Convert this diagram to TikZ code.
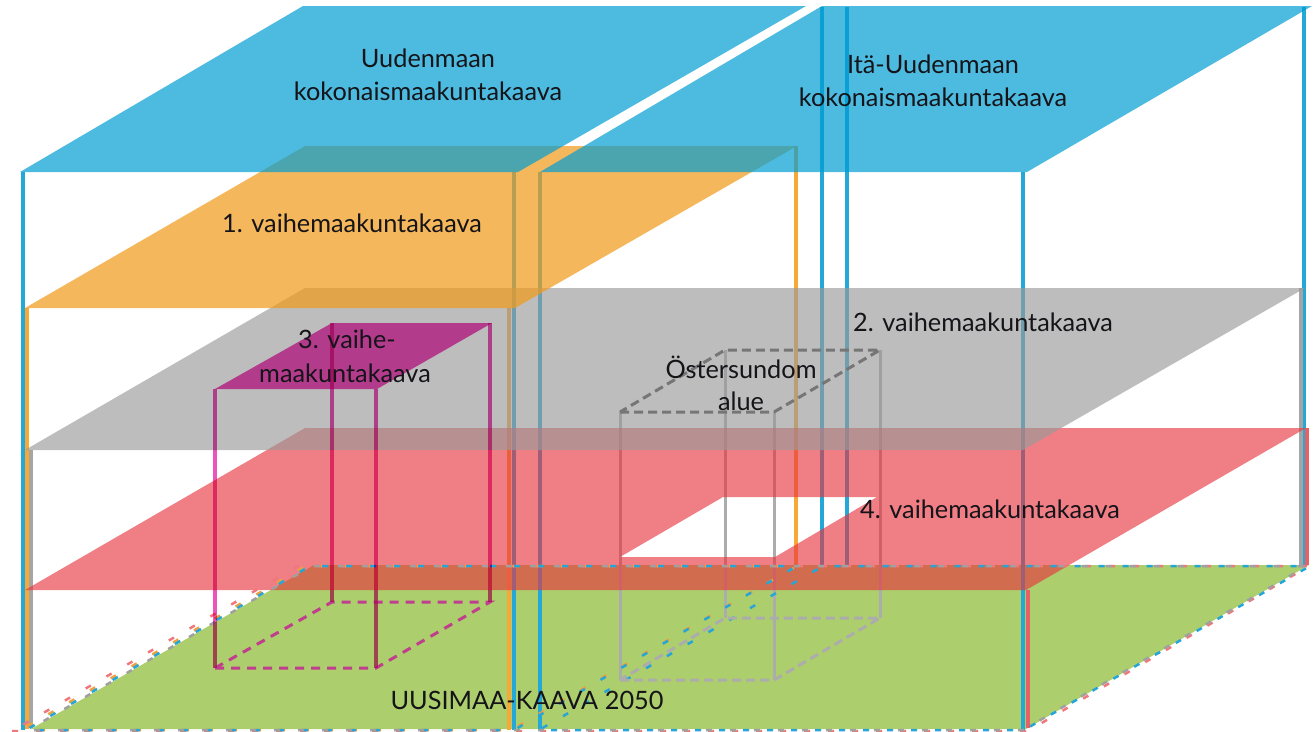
\documentclass[tikz,border=0pt]{standalone}
\usepackage{fontspec}
\setmainfont{Lato}
\definecolor{cgreen}{RGB}{172,206,108}
\definecolor{cred}{RGB}{232,53,64}
\definecolor{cgray}{RGB}{154,154,153}
\definecolor{corange}{RGB}{241,155,29}
\definecolor{cblue}{RGB}{2,158,211}
\definecolor{cmag}{RGB}{179,59,140}
\definecolor{lmag}{RGB}{235,85,185}
\definecolor{dmag}{RGB}{192,62,142}
\definecolor{lblue}{RGB}{35,168,215}
\definecolor{lorange}{RGB}{247,168,55}
\definecolor{lgray}{RGB}{165,165,165}
\definecolor{lred}{RGB}{232,95,100}
\definecolor{ogray}{RGB}{172,172,172}
\definecolor{odark}{RGB}{118,118,118}
\definecolor{dred}{RGB}{240,120,125}
\definecolor{dorange}{RGB}{240,160,60}
\definecolor{dblue}{RGB}{40,165,215}
\definecolor{dgray}{RGB}{160,160,160}
\definecolor{txt}{RGB}{20,20,25}
\begin{document}
\begin{tikzpicture}[x=1pt,y=-1pt,
  vline/.style={line width=4pt},
  thinline/.style={line width=3pt},
  flo/.style={line width=2.5pt, dash pattern=on 6pt off 18pt},
  odash/.style={line width=3pt, dash pattern=on 9pt off 5pt},
  mdash/.style={line width=3pt, dmag, dash pattern=on 9pt off 7pt},
  lbl/.style={anchor=base, inner sep=0pt, font=\fontsize{25.3}{30}\selectfont, text=txt},
]
\useasboundingbox (0,0) rectangle (1316,731);

% floor
\fill[cgreen] (31,729) -- (1026,729) -- (1309,565) -- (314,565) -- cycle;

% verticals (under the layers)
\draw[vline, lblue] (23,172) -- (23,730);
\draw[vline, lblue] (514,172) -- (514,730);
\draw[vline, lblue] (540,172) -- (540,730);
\draw[vline, lblue] (1023,172) -- (1023,730);
\draw[vline, lblue] (822,7) -- (822,565);
\draw[vline, lblue] (847,7) -- (847,565);
\draw[vline, lblue] (1304,7) -- (1304,565);
\draw[vline, lorange] (27,308) -- (27,729);
\draw[vline, lorange] (509,308) -- (509,730);
\draw[vline, lorange] (796,146) -- (796,565);
\draw[vline, lgray] (31,450) -- (31,728);
\draw[vline, lgray] (1301,288) -- (1301,565);
\draw[vline, lred] (1028,590) -- (1028,728);
\draw[vline, lred] (1307,428) -- (1307,565);
\draw[thinline, ogray] (620,412) -- (620,680);
\draw[thinline, ogray] (774,412) -- (774,680);
\draw[thinline, ogray] (725,350) -- (725,618);
\draw[thinline, ogray] (880,350) -- (880,618);

% layers
\fill[cred, fill opacity=0.64, even odd rule]
  (25,590) -- (1026,590) -- (1306,428) -- (305,428) -- cycle
  (620,557) -- (775,557) -- (877,497) -- (723,497) -- cycle;
\fill[cgray, fill opacity=0.65] (25,450) -- (1023,450) -- (1305,288) -- (305,288) -- cycle;
\fill[corange, fill opacity=0.72] (25,308) -- (515,308) -- (797,146) -- (305,146) -- cycle;
\fill[cblue, fill opacity=0.7] (20,172) -- (518,172) -- (806,6) -- (303,6) -- cycle;
\fill[cblue, fill opacity=0.7] (540,172) -- (1027,172) -- (1312,6) -- (822,6) -- cycle;

% floor outlines (projections)
\draw[flo, dred, dash phase=0pt] (12,731) -- (1028,731) -- (1309,566) -- (298,566) -- cycle;
\draw[flo, dorange, dash phase=6pt] (21,730) -- (511,730) -- (797,566) -- (306,566) -- cycle;
\draw[flo, dblue, dash phase=12pt] (26,730) -- (514,730) -- (797,566) -- (310,566) -- cycle;
\draw[flo, dblue, dash phase=12pt] (539,730) -- (1024,730) -- (1310,566) -- (823,566) -- cycle;
\draw[flo, dgray, dash phase=18pt] (28,730) -- (1023,730) -- (1307,566) -- (312,566) -- cycle;

% Ostersundom box dashes
\draw[odash, odark] (620,412) -- (774,412) -- (880,350) -- (725,350) -- cycle;
\draw[odash, ogray] (620,680) -- (774,680) -- (880,618) -- (725,618) -- cycle;

% 3. vaihemaakuntakaava box
\fill[cmag] (215,389) -- (377,389) -- (492,323) -- (332,323) -- cycle;
\draw[mdash] (215,668) -- (376,668) -- (490,602) -- (332,602) -- cycle;
\begin{scope}[blend mode=multiply]
\draw[vline, lmag] (215,389) -- (215,668);
\draw[vline, lmag] (376,389) -- (376,668);
\draw[vline, lmag] (332,323) -- (332,602);
\draw[vline, lmag] (490,323) -- (490,602);
\end{scope}

% labels
\node[lbl] (t1a) at (428,67) {Uudenmaan};
\node[lbl] (t1b) at (428,100) {kokonaismaakuntakaava};
\node[lbl] (t2a) at (933,73) {Itä-Uudenmaan};
\node[lbl] (t2b) at (933,106) {kokonaismaakuntakaava};
\node[lbl] (t3) at (352,232) {1. vaihemaakuntakaava};
\node[lbl] (t4) at (983,331) {2. vaihemaakuntakaava};
\node[lbl] (t5a) at (347,348) {3. vaihe-};
\node[lbl] (t5b) at (345,382) {maakuntakaava};
\node[lbl] (t6a) at (741,378) {Östersundom};
\node[lbl] (t6b) at (741,410) {alue};
\node[lbl] (t7) at (990,518) {4. vaihemaakuntakaava};
\node[lbl] (t8) at (527,709) {UUSIMAA-KAAVA 2050};
\end{tikzpicture}
\end{document}
